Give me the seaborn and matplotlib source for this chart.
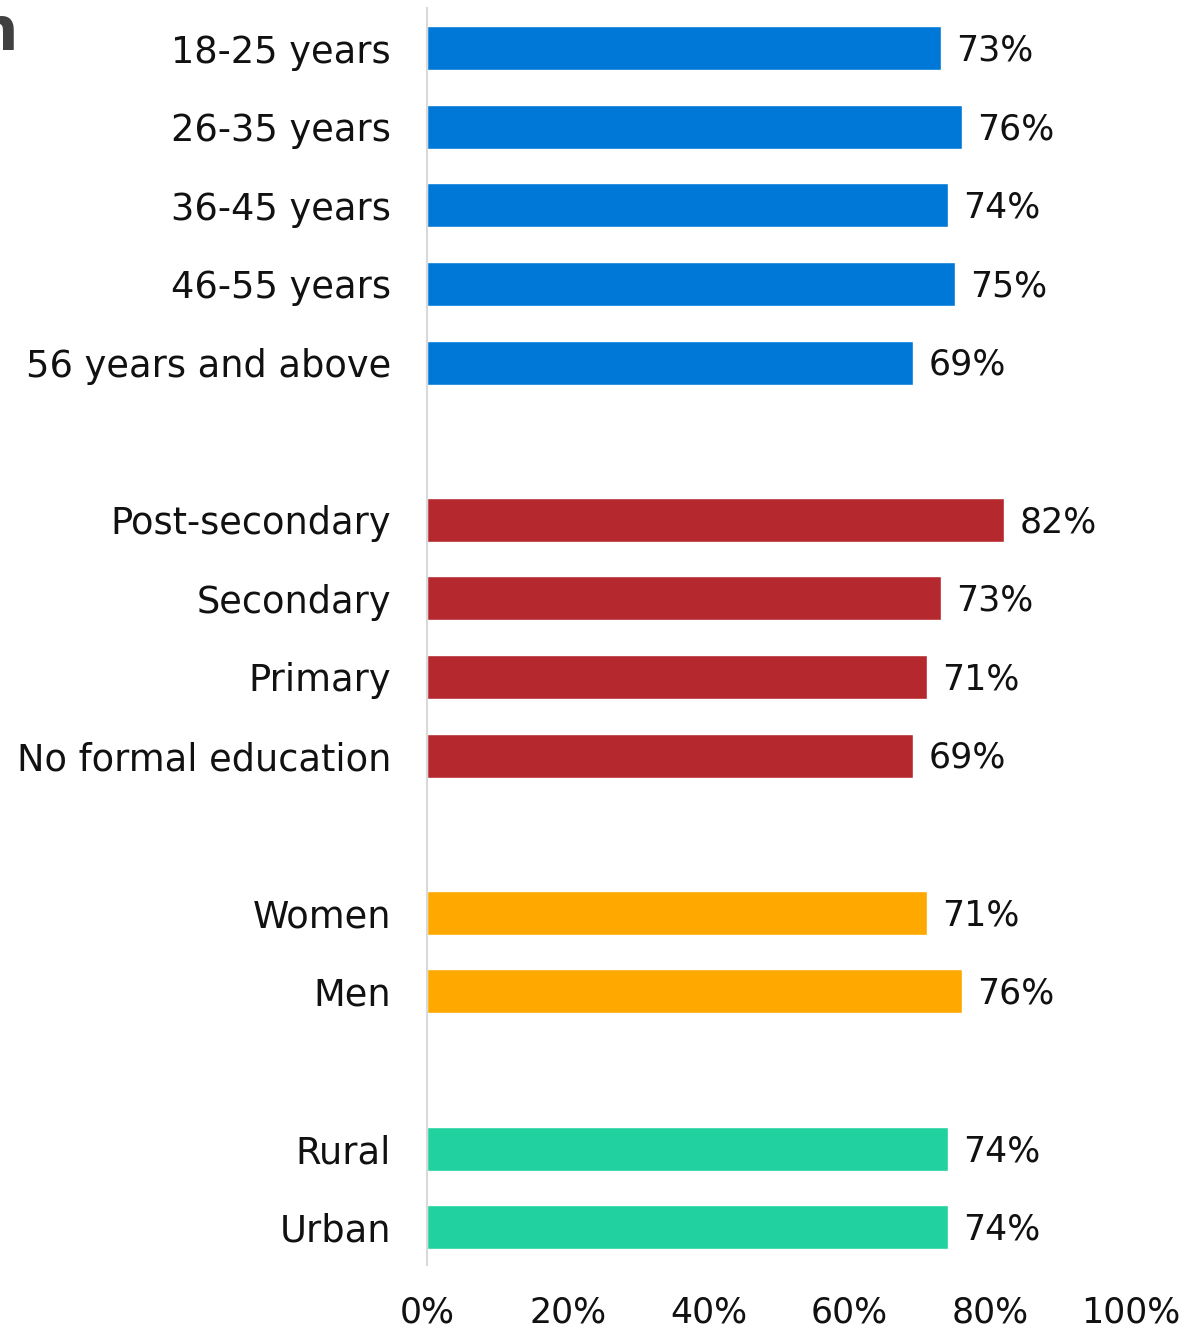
import matplotlib
matplotlib.use("Agg")
import matplotlib.pyplot as plt
import seaborn as sns
import pandas as pd

# Share of respondents by demographic group
age_labels = ["18-25 years", "26-35 years", "36-45 years", "46-55 years", "56 years and above"]
age_values = [73, 76, 74, 75, 69]
edu_labels = ["Post-secondary", "Secondary", "Primary", "No formal education"]
edu_values = [82, 73, 71, 69]
gender_labels = ["Women", "Men"]
gender_values = [71, 76]
area_labels = ["Rural", "Urban"]
area_values = [74, 74]

group_colors = {"Age": "#0078D7", "Education": "#B5282E", "Gender": "#FFA800", "Area": "#21D19F"}
tick_values = [0, 20, 40, 60, 80, 100]

# Build one table with a blank slot between groups
rows = []
pos = 0
for grp, labels, values in [("Age", age_labels, age_values),
                            ("Education", edu_labels, edu_values),
                            ("Gender", gender_labels, gender_values),
                            ("Area", area_labels, area_values)]:
    for lab, val in zip(labels, values):
        rows.append({"group": grp, "label": lab, "value": val, "pos": pos})
        pos += 1
    pos += 1
df = pd.DataFrame(rows)

sns.set_theme(style="white")
plt.rcParams["font.family"] = ["DejaVu Sans"]

fig = plt.figure(figsize=(11.94, 13.31), dpi=100)
ax = fig.add_axes([427 / 1194, 1 - 1265 / 1331, (1131 - 427) / 1194, (1265 - 8) / 1331])

sns.barplot(data=df, x="value", y="pos", hue="group", palette=group_colors,
            orient="h", native_scale=True, dodge=False, width=0.56,
            saturation=1, legend=False, ax=ax)

ax.set_xlim(0, 100)
ax.set_ylim(15.48, -0.51)
ax.set_yticks(df["pos"])
ax.set_yticklabels(df["label"], fontsize=26.5, color="#111111")
ax.set_xticks(tick_values)
ax.set_xticklabels([f"{t}%" for t in tick_values], fontsize=25, color="#111111")
ax.tick_params(axis="y", length=0, pad=26)
ax.tick_params(axis="x", length=0, pad=22)
ax.set_xlabel("")
ax.set_ylabel("")

for s in ["top", "right", "bottom"]:
    ax.spines[s].set_visible(False)
ax.spines["left"].set_color("#d9d9d9")
ax.spines["left"].set_linewidth(1.5)

for _, r in df.iterrows():
    ax.text(r["value"] + 2.2, r["pos"] + 0.03, f"{r['value']}%", va="center", ha="left",
            fontsize=25, color="#111111")

# Partially visible heading at the top-left corner
fig.text(18 / 1194, 1 - 4 / 1331, "n", ha="right", va="top", fontsize=44,
         fontweight="bold", color="#404040")

fig.savefig("out.png", dpi=100)
